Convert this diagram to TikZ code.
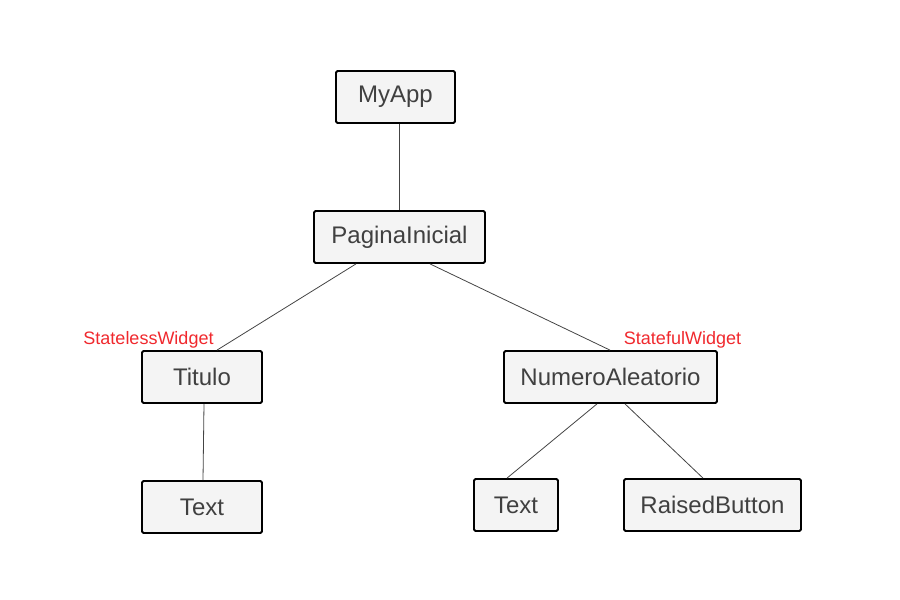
\documentclass[tikz,border=0pt]{standalone}
\usepackage{fontspec}
\setmainfont{Liberation Sans}
\usetikzlibrary{calc}
\definecolor{boxfill}{HTML}{F4F4F4}
\definecolor{boxtext}{HTML}{404040}
\definecolor{linkc}{HTML}{444444}
\definecolor{redlab}{HTML}{F0282D}
\begin{document}
\begin{tikzpicture}[x=1pt,y=-1pt,
  widget/.style={draw=black,line width=1.8pt,fill=boxfill,rounded corners=1.5pt,
    inner sep=0pt,text=boxtext,font=\fontsize{24}{27}\selectfont,minimum height=52pt},
  link/.style={draw=linkc,line width=0.8pt},
  tag/.style={text=redlab,font=\fontsize{18}{20}\selectfont,inner sep=0pt}]
\useasboundingbox (0,0) rectangle (900,600);
\node[widget,minimum width=119pt] (myapp) at (395.5,97) {MyApp};
\node[widget,minimum width=171pt] (pag) at (399.5,237) {PaginaInicial};
\node[widget,minimum width=120pt] (tit) at (202,377) {Titulo};
\node[widget,minimum width=213pt] (num) at (610.5,377) {NumeroAleatorio};
\node[widget,minimum width=120pt] (txt1) at (202,507) {Text};
\node[widget,minimum width=84pt] (txt2) at (516,505) {Text};
\node[widget,minimum width=177pt] (rb) at (712.5,505) {RaisedButton};
\node[tag] (sl) at (148.5,340) {StatelessWidget};
\node[tag] (sf) at (682.5,340) {StatefulWidget};
\draw[link] ([xshift=3.5pt]myapp.south) -- ([xshift=-0.5pt]pag.north);
\draw[link] ([xshift=-43.5pt]pag.south) -- ([xshift=15pt]tit.north);
\draw[link] ([xshift=30.5pt]pag.south) -- ([xshift=-0.5pt]num.north);
\draw[link] ([xshift=2pt]tit.south) -- ([xshift=1pt]txt1.north);
\draw[link] ([xshift=-13.5pt]num.south) -- ([xshift=-9pt]txt2.north);
\draw[link] ([xshift=14.5pt]num.south) -- ([xshift=-9.5pt]rb.north);
\end{tikzpicture}
\end{document}
